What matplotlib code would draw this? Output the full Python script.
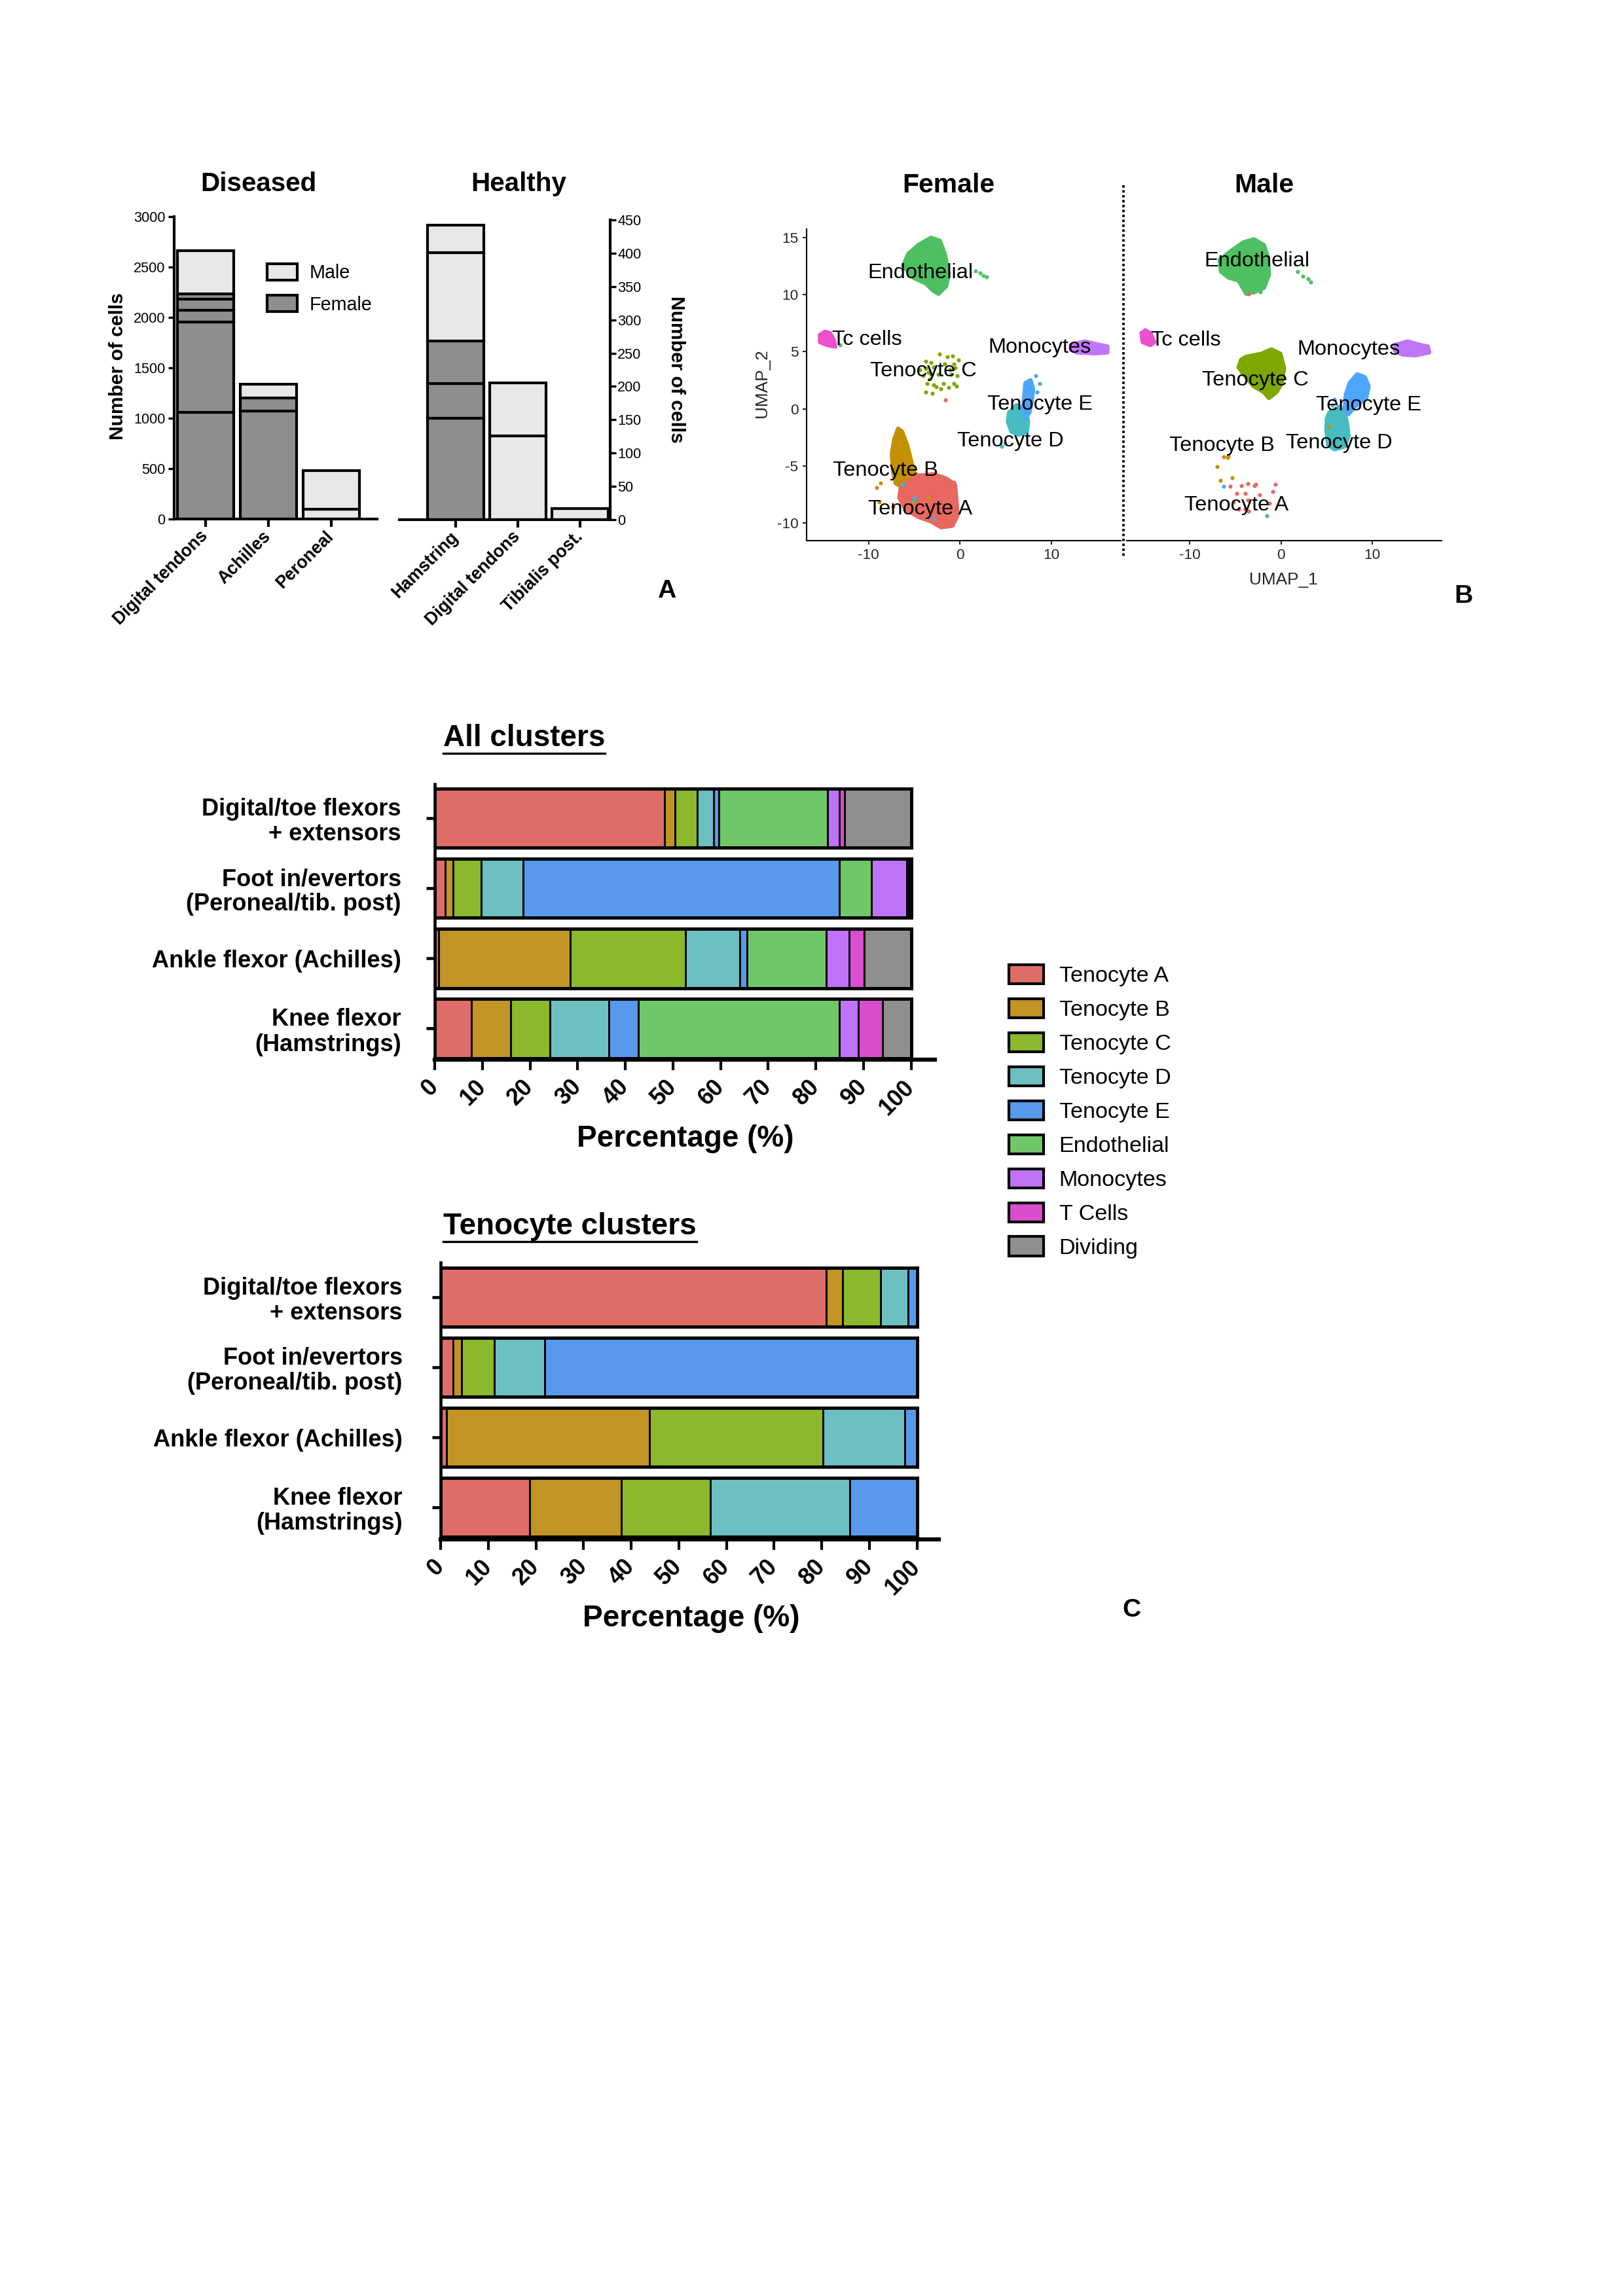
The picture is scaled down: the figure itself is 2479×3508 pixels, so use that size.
import matplotlib
matplotlib.use('Agg')
import matplotlib.pyplot as plt
from matplotlib.patches import Patch
from matplotlib.lines import Line2D
import numpy as np

# ---------------- DATA ----------------
# Panel A: cell numbers (stacked samples)
dis_cats = ['Digital tendons', 'Achilles', 'Peroneal']
dis_female = [[1060, 892, 121, 111, 51], [1070, 132], []]
dis_male = [[430], [133], [95, 386]]

hea_cats = ['Hamstring', 'Digital tendons', 'Tibialis post.']
hea_female = [[152, 52, 64], [], []]
hea_male = [[133, 41], [126, 79], [17]]

# Panel B: UMAP clusters, outlines (x, y)
F_ENDO = [(-4.56, 14.36), (-3.18, 15.0), (-2.21, 14.74), (-1.66, 13.58), (-1.24, 11.78), (-1.52, 10.75),
          (-2.35, 10.10), (-2.90, 10.36), (-3.73, 11.0), (-5.11, 11.52), (-6.22, 12.55), (-5.66, 13.58)]
F_ENDO_PTS = [(1.7, 12.1), (2.2, 11.9), (2.6, 11.7), (2.9, 11.55), (-13.18, 5.59)]
F_TC = [(-15.33, 6.49), (-14.78, 6.75), (-14.23, 6.62), (-13.81, 5.98), (-13.67, 5.46), (-14.50, 5.59), (-15.33, 5.85)]
F_MONO = [(12.15, 5.59), (13.67, 5.90), (15.06, 5.64), (16.16, 5.46), (16.16, 4.95), (14.78, 4.87), (12.85, 4.95), (12.15, 5.21)]
F_TENC_PTS = [(-3.73, 4.18), (-3.18, 4.05), (-2.21, 4.77), (-1.38, 4.56), (-0.83, 4.61), (-0.14, 4.30),
              (-3.73, 3.53), (-2.90, 3.66), (-1.66, 3.92), (-0.69, 3.92), (-4.01, 2.89), (-3.18, 3.02),
              (-2.35, 3.02), (-0.97, 3.02), (-0.28, 2.89), (-3.59, 2.24), (-2.90, 2.11), (-1.80, 2.24),
              (-0.69, 2.24), (-3.73, 1.47), (-3.04, 1.34), (-1.24, 1.86), (-2.07, 1.73), (-0.41, 1.98),
              (-4.42, 3.40), (-3.45, 3.2), (-1.1, 3.4), (-0.5, 3.6), (-2.6, 1.9), (-3.3, 2.6)]
F_TENE = [(7.18, 2.24), (7.73, 2.50), (8.01, 1.73), (7.87, 0.70), (7.60, -0.34), (7.18, -0.85), (6.91, -0.08), (7.04, 0.95)]
F_TENE_PTS = [(8.29, 2.89), (8.76, 2.19), (8.43, 1.47)]
F_TEND = [(5.39, -0.34), (6.22, 0.31), (7.18, -0.08), (7.46, -1.11), (7.32, -2.01), (6.49, -2.27), (5.66, -2.01), (5.25, -1.11)]
F_TEND_PTS = [(4.56, -3.30), (4.9, -3.0)]
F_TENB = [(-6.77, -1.75), (-6.35, -2.01), (-5.80, -3.17), (-5.39, -4.46), (-5.11, -5.49), (-4.56, -6.01),
          (-5.11, -6.78), (-6.22, -6.91), (-7.04, -6.52), (-7.32, -5.49), (-7.46, -3.94), (-7.18, -2.66)]
F_TENB_PTS = [(-9.12, -6.91), (-8.70, -6.52), (-8.84, -8.20), (-3.45, -7.76)]
F_TENA = [(-5.94, -6.52), (-4.56, -5.88), (-2.90, -5.75), (-1.52, -6.13), (-0.55, -6.65), (-0.41, -7.81),
          (-0.28, -9.36), (-0.83, -10.26), (-2.07, -10.39), (-3.18, -9.87), (-4.56, -9.48), (-5.94, -8.84),
          (-6.63, -7.81), (-6.49, -7.04)]
F_TENA_PTS = [(-0.69, -6.47), (-7.32, -8.58), (-1.57, 0.75)]
F_TENE_STRAY = [(-4.97, -7.81), (-2.90, -9.61), (-6.27, -6.65)]
F_ENDO_STRAY = [(-5.11, -8.07)]

M_ENDO = [(-5.47, 13.84), (-4.09, 14.61), (-2.98, 14.87), (-1.88, 14.36), (-1.46, 13.32), (-1.33, 11.78),
          (-1.88, 10.62), (-2.98, 10.23), (-3.81, 10.10), (-4.64, 11.26), (-5.75, 11.52), (-6.57, 12.04), (-6.71, 13.07)]
M_ENDO_PTS = [(1.85, 12.04), (2.40, 11.65), (2.96, 11.39), (3.23, 11.13), (-2.29, 10.28), (-1.55, -9.41)]
M_TC = [(-15.28, 6.62), (-14.86, 6.88), (-14.31, 6.62), (-13.90, 5.85), (-14.31, 5.59), (-15.14, 5.85)]
M_MONO = [(12.49, 5.59), (13.87, 5.90), (15.25, 5.59), (16.08, 5.46), (16.22, 4.95), (14.70, 4.69), (13.31, 4.77), (12.49, 5.08)]
M_TENC = [(-3.81, 4.56), (-2.15, 4.82), (-1.05, 5.21), (-0.08, 4.82), (0.33, 3.53), (0.06, 2.24), (-0.50, 1.47),
          (-1.33, 0.95), (-1.88, 1.47), (-2.98, 1.98), (-4.09, 3.02), (-4.64, 3.66), (-4.36, 4.30)]
M_TENE = [(7.51, 2.24), (8.34, 3.02), (9.17, 2.76), (9.59, 1.98), (9.31, 0.95), (8.07, 0.18), (7.38, -0.46), (6.96, -0.08), (7.10, 1.21)]
M_TENE_PTS = [(5.86, 0.82), (5.58, 0.31), (-6.30, -6.78)]
M_TEND = [(5.30, -0.34), (6.41, 0.18), (6.96, -0.34), (7.24, -1.37), (7.38, -2.40), (6.96, -3.30), (5.86, -3.56),
          (5.17, -3.17), (4.97, -1.88), (5.03, -0.85)]
M_TENB_PTS = [(-6.30, -4.20), (-5.88, -4.25), (-5.75, -4.15), (-6.99, -5.10), (-5.39, -6.06), (-6.63, -6.31), (5.17, -1.57)]
M_TENA_PTS = [(-5.55, -6.78), (-4.83, -7.42), (-4.36, -6.73), (-3.62, -6.60), (-3.95, -7.42), (-2.90, -6.73),
              (-2.76, -6.65), (-0.64, -6.65), (-0.91, -7.29), (-2.32, -7.55), (-3.62, -8.02), (-1.27, -8.27),
              (-5.19, -8.20), (-3.54, -8.97), (-3.90, -8.79), (-4.64, -8.84), (-3.54, 10.10)]

F_LABELS = [('Endothelial', -4.34, 11.9), ('Tc cells', -10.2, 6.06), ('Monocytes', 8.76, 5.39),
            ('Tenocyte C', -4.0, 3.32), ('Tenocyte E', 8.76, 0.36), ('Tenocyte D', 5.52, -2.84),
            ('Tenocyte B', -8.2, -5.44), ('Tenocyte A', -4.34, -8.84)]
M_LABELS = [('Endothelial', -2.62, 12.94), ('Tc cells', -10.44, 5.98), ('Monocytes', 7.38, 5.2),
            ('Tenocyte C', -2.85, 2.5), ('Tenocyte E', 9.59, 0.31), ('Tenocyte B', -6.44, -3.22),
            ('Tenocyte D', 6.35, -3.04), ('Tenocyte A', -4.92, -8.45)]

# Panel C: percentages
tissues = ['Digital/toe flexors\n+ extensors', 'Foot in/evertors\n(Peroneal/tib. post)',
           'Ankle flexor (Achilles)', 'Knee flexor\n(Hamstrings)']
clusters = ['Tenocyte A', 'Tenocyte B', 'Tenocyte C', 'Tenocyte D', 'Tenocyte E',
            'Endothelial', 'Monocytes', 'T Cells', 'Dividing']
all_tenocyte_a = [48.3, 2.2, 0.8, 7.7]
all_tenocyte_b = [2.2, 1.6, 27.7, 8.3]
all_tenocyte_c = [4.6, 5.9, 24.2, 8.2]
all_tenocyte_d = [3.4, 8.8, 11.4, 12.3]
all_tenocyte_e = [1.1, 66.5, 1.5, 6.3]
all_endothelial = [22.9, 6.7, 16.6, 42.2]
all_monocytes = [2.4, 7.4, 4.8, 3.9]
all_tcells = [1.1, 0.4, 3.1, 5.1]
all_dividing = [14.0, 0.5, 9.9, 6.0]

ten_tenocyte_a = [80.9, 2.65, 1.3, 18.7]
ten_tenocyte_b = [3.5, 1.75, 42.6, 19.3]
ten_tenocyte_c = [7.9, 6.9, 36.4, 18.6]
ten_tenocyte_d = [5.9, 10.5, 17.2, 29.3]
ten_tenocyte_e = [1.8, 78.2, 2.5, 14.1]

pct_ticks = list(range(0, 101, 10))

# ---------------- STYLE ----------------
W, H = 2479, 3508
DPI = 300
REG = ['Liberation Sans', 'DejaVu Sans']
plt.rcParams['font.family'] = REG
plt.rcParams['axes.unicode_minus'] = False

FEM_C = '#8e8e8e'
MALE_C = '#e8e8e8'
UC = {'A': '#e8675f', 'B': '#c49000', 'C': '#7ca800', 'D': '#45bcc1', 'E': '#4da6fb',
      'Endo': '#4fbf63', 'Mono': '#c076f8', 'Tc': '#ec50cf'}
BAR_C = ['#e06c68', '#c29325', '#8bb82c', '#6cc0c2', '#5899ee', '#6fc76a', '#bf73f9', '#da4dce', '#8f8f8f']

fig = plt.figure(figsize=(W / DPI, H / DPI), dpi=DPI)
fig.patch.set_facecolor('white')


def axes_px(x0, y0, x1, y1):
    return fig.add_axes([x0 / W, 1 - y1 / H, (x1 - x0) / W, (y1 - y0) / H])


def ftext(x, y, s, **kw):
    return fig.text(x / W, 1 - y / H, s, **kw)


def center_label(lbl):
    lbl.set_ha('center')
    lbl.set_va('center')


# ---------------- PANEL A ----------------
def stacked(ax, fem, mal):
    for i, (f, m) in enumerate(zip(fem, mal)):
        bottom = 0
        for v in f:
            ax.bar(i, v, bottom=bottom, width=0.9, color=FEM_C, edgecolor='black', lw=1.0, zorder=2)
            bottom += v
        for v in m:
            ax.bar(i, v, bottom=bottom, width=0.9, color=MALE_C, edgecolor='black', lw=1.0, zorder=2)
            bottom += v


axd = axes_px(266, 331, 576, 793)
stacked(axd, dis_female, dis_male)
axd.set_xlim(-0.5, 2.73)
axd.set_ylim(0, 3000)
for s in ['top', 'right']:
    axd.spines[s].set_visible(False)
for s in ['left', 'bottom']:
    axd.spines[s].set_linewidth(1.0)
axd.set_yticks(range(0, 3001, 500))
axd.tick_params(axis='y', labelsize=5.2, length=2.2, width=0.8, pad=1)
axd.set_xticks(range(len(dis_cats)))
axd.set_xticklabels(dis_cats, rotation=45, ha='right', va='center', rotation_mode='anchor',
                    fontsize=6.4, fontweight='bold')
axd.tick_params(axis='x', length=2.9, width=1.0, pad=2.5)
axd.set_ylabel('Number of cells', fontsize=7.2, fontweight='bold')
center_label(axd.yaxis.label)
axd.yaxis.set_label_coords(-0.278, 0.506)
axd.legend(handles=[Patch(facecolor=MALE_C, edgecolor='black', lw=1.0, label='Male'),
                    Patch(facecolor=FEM_C, edgecolor='black', lw=1.0, label='Female')],
           loc='upper left', bbox_to_anchor=(0.458, 0.845), frameon=False, fontsize=6.9,
           handlelength=1.6, handleheight=0.97, handletextpad=0.66, labelspacing=0.7, borderpad=0,
           borderaxespad=0)
ftext(394.7, 281.4, 'Diseased', ha='center', va='center', fontsize=9.7, fontweight='bold')

axh = axes_px(610, 336, 932, 794)
stacked(axh, hea_female, hea_male)
axh.set_xlim(-0.9, 2.48)
axh.set_ylim(0, 450)
for s in ['top', 'left']:
    axh.spines[s].set_visible(False)
for s in ['right', 'bottom']:
    axh.spines[s].set_linewidth(1.0)
axh.yaxis.tick_right()
axh.yaxis.set_label_position('right')
axh.set_yticks(range(0, 451, 50))
axh.tick_params(axis='y', labelsize=5.2, length=2.2, width=0.8, pad=0.5)
axh.set_xticks(range(len(hea_cats)))
axh.set_xticklabels(hea_cats, rotation=45, ha='right', va='center', rotation_mode='anchor',
                    fontsize=6.4, fontweight='bold')
axh.tick_params(axis='x', length=2.9, width=1.0, pad=2.5)
axh.set_ylabel('Number of cells', fontsize=7.2, fontweight='bold', rotation=270)
center_label(axh.yaxis.label)
axh.yaxis.set_label_coords(1.314, 0.502)
ftext(792, 281.4, 'Healthy', ha='center', va='center', fontsize=9.7, fontweight='bold')
ftext(1018, 903, 'A', ha='center', va='center', fontsize=9.4, fontweight='bold')

# ---------------- PANEL B ----------------
def poly(ax, pts, c):
    ax.fill([p[0] for p in pts], [p[1] for p in pts], color=c, lw=1.6, joinstyle='round', zorder=2)


def dots(ax, pts, c):
    ax.scatter([p[0] for p in pts], [p[1] for p in pts], s=2.2, color=c, lw=0, zorder=3)


def umap_axes(ax, xlim):
    ax.set_xlim(*xlim)
    ax.set_ylim(-11.55, 15.77)
    for s in ['top', 'right']:
        ax.spines[s].set_visible(False)
    for s in ['left', 'bottom']:
        ax.spines[s].set_linewidth(0.5)
    ax.set_xticks([-10, 0, 10])
    ax.tick_params(labelsize=5.4, length=1.4, width=0.5, pad=1.5, colors='#262626')


axf = axes_px(1231.5, 350, 1712, 825.6)
umap_axes(axf, (-16.84, 17.63))
axf.set_yticks([-10, -5, 0, 5, 10, 15])
poly(axf, F_ENDO, UC['Endo']); dots(axf, F_ENDO_PTS, UC['Endo'])
poly(axf, F_TC, UC['Tc'])
poly(axf, F_MONO, UC['Mono'])
dots(axf, F_TENC_PTS, UC['C'])
poly(axf, F_TEND, UC['D']); dots(axf, F_TEND_PTS, UC['D'])
poly(axf, F_TENE, UC['E']); dots(axf, F_TENE_PTS, UC['E'])
poly(axf, F_TENB, UC['B']); dots(axf, F_TENB_PTS, UC['B'])
poly(axf, F_TENA, UC['A']); dots(axf, F_TENA_PTS, UC['A'])
dots(axf, F_TENE_STRAY, UC['E']); dots(axf, F_ENDO_STRAY, UC['Endo'])
for name, x, y in F_LABELS:
    axf.text(x, y, name, ha='center', va='center', fontsize=7.8, zorder=5)
axf.set_ylabel('UMAP_2', fontsize=6.3, color='#262626')
center_label(axf.yaxis.label)
axf.yaxis.set_label_coords(-0.14, 0.505)
ftext(1448.8, 282.6, 'Female', ha='center', va='center', fontsize=9.8, fontweight='bold')

axm = axes_px(1721, 350, 2202, 825.6)
umap_axes(axm, (-16.9, 17.59))
axm.spines['left'].set_visible(False)
axm.set_yticks([])
poly(axm, M_ENDO, UC['Endo']); dots(axm, M_ENDO_PTS, UC['Endo'])
poly(axm, M_TC, UC['Tc'])
poly(axm, M_MONO, UC['Mono'])
poly(axm, M_TENC, UC['C'])
poly(axm, M_TEND, UC['D'])
poly(axm, M_TENE, UC['E']); dots(axm, M_TENE_PTS, UC['E'])
dots(axm, M_TENB_PTS, UC['B'])
dots(axm, M_TENA_PTS, UC['A'])
for name, x, y in M_LABELS:
    axm.text(x, y, name, ha='center', va='center', fontsize=7.8, zorder=5)
axm.set_xlabel('UMAP_1', fontsize=6.3, color='#262626')
center_label(axm.xaxis.label)
axm.xaxis.set_label_coords(0.4985, -0.127)
ftext(1930.8, 282.6, 'Male', ha='center', va='center', fontsize=9.8, fontweight='bold')
fig.add_artist(Line2D([1716 / W, 1716 / W], [1 - 282.6 / H, 1 - 852.5 / H], transform=fig.transFigure,
                      color='black', lw=0.9, ls=(0, (1, 1))))
ftext(2236, 911, 'B', ha='center', va='center', fontsize=9.4, fontweight='bold')

# ---------------- PANEL C ----------------
def pct_axes(ax, series, title_xy, title, xlabel_coords, xmax, ybottom, ypad):
    y = np.arange(len(tissues))
    left = np.zeros(len(tissues))
    for vals, c in zip(series, BAR_C):
        ax.barh(y, vals, left=left, height=0.845, color=c, edgecolor='black', lw=0.7, zorder=2)
        left = left + np.array(vals)
    ax.barh(y, left, height=0.845, fill=False, edgecolor='black', lw=1.2, zorder=3)
    ax.set_ylim(ybottom, -0.49)
    ax.set_xlim(0, xmax)
    for s in ['top', 'right']:
        ax.spines[s].set_visible(False)
    ax.spines['left'].set_linewidth(1.1)
    ax.spines['bottom'].set_linewidth(1.5)
    ax.set_yticks(y)
    ax.set_yticklabels(tissues, fontsize=8.7, fontweight='bold', ha='right', linespacing=1.12)
    ax.tick_params(axis='y', length=3.2, width=1.1, pad=ypad)
    ax.set_xticks(pct_ticks)
    ax.set_xticklabels([str(t) for t in pct_ticks], rotation=45, ha='right', va='center',
                       rotation_mode='anchor', fontsize=8.6, fontweight='bold')
    ax.tick_params(axis='x', length=3.8, width=1.0, pad=5.0)
    ax.set_xlabel('Percentage (%)', fontsize=11, fontweight='bold')
    center_label(ax.xaxis.label)
    ax.xaxis.set_label_coords(*xlabel_coords)
    return ftext(title_xy[0], title_xy[1], title, ha='center', va='center', fontsize=11, fontweight='bold')


axc1 = axes_px(664, 1197.7, 1428, 1619)
t1 = pct_axes(axc1, [all_tenocyte_a, all_tenocyte_b, all_tenocyte_c, all_tenocyte_d, all_tenocyte_e,
                     all_endothelial, all_monocytes, all_tcells, all_dividing],
              (800.7, 1128), 'All clusters', (0.501, -0.287), 105.0, 3.445, 9.1)

axc2 = axes_px(673, 1929.4, 1434, 2352)
t2 = pct_axes(axc2, [ten_tenocyte_a, ten_tenocyte_b, ten_tenocyte_c, ten_tenocyte_d, ten_tenocyte_e],
              (870.5, 1873.6), 'Tenocyte clusters', (0.503, -0.2875), 104.6, 3.457, 10.8)

fig.legend(handles=[Patch(facecolor=c, edgecolor='black', lw=1.0, label=n) for c, n in zip(BAR_C, clusters)],
           loc='upper left', bbox_to_anchor=(1540.7 / W, 1 - 1474 / H), frameon=False, fontsize=8.2,
           handlelength=1.55, handleheight=0.95, handletextpad=0.7, labelspacing=0.54,
           borderpad=0, borderaxespad=0)
ftext(1729, 2460, 'C', ha='center', va='center', fontsize=9.4, fontweight='bold')

# underline titles
fig.canvas.draw()
r = fig.canvas.get_renderer()
for t in (t1, t2):
    bb = t.get_window_extent(r)
    yline = (bb.y0 - 1) / H
    fig.add_artist(Line2D([bb.x0 / W, bb.x1 / W], [yline, yline], transform=fig.transFigure,
                          color='black', lw=0.8))

fig.savefig('out.png', dpi=DPI)
